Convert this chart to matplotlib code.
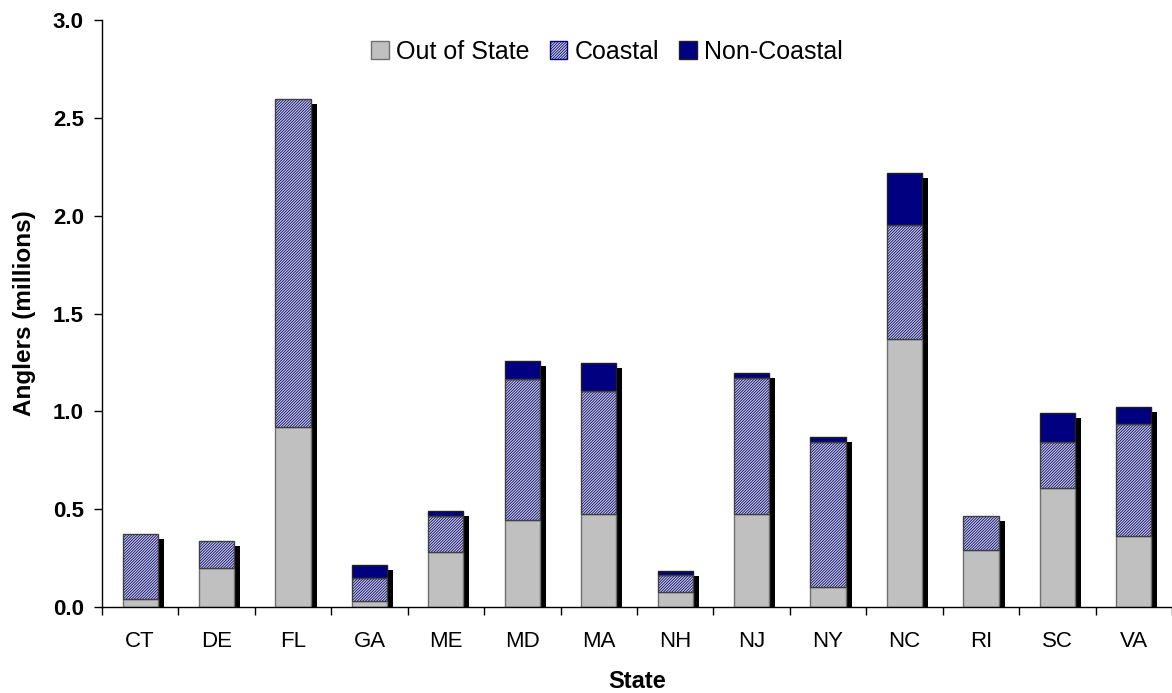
import numpy as np
import matplotlib
matplotlib.use('Agg')
import matplotlib.pyplot as plt
from matplotlib.patches import Patch

# Anglers by state (millions)
states = ['CT', 'DE', 'FL', 'GA', 'ME', 'MD', 'MA', 'NH', 'NJ', 'NY', 'NC', 'RI', 'SC', 'VA']
out_of_state = [0.04, 0.20, 0.92, 0.03, 0.28, 0.445, 0.475, 0.075, 0.475, 0.105, 1.37, 0.29, 0.61, 0.365]
coastal = [0.335, 0.14, 1.675, 0.12, 0.185, 0.72, 0.63, 0.09, 0.695, 0.74, 0.585, 0.175, 0.235, 0.57]
non_coastal = [0.0, 0.0, 0.0, 0.065, 0.025, 0.095, 0.14, 0.02, 0.025, 0.025, 0.265, 0.0, 0.145, 0.09]

plt.rcParams['font.family'] = ['Liberation Sans', 'DejaVu Sans']
plt.rcParams['hatch.linewidth'] = 0.55

GRAY = '#c0c0c0'
NAVY = '#000080'
HATCH_BG = '#c8c8d0'
HATCH = '////////////'

fig = plt.figure(figsize=(11.72, 6.93), dpi=100)
ax = fig.add_axes([0.087, 0.124, 0.913, 0.847])

x = np.arange(len(states))
out_arr = np.array(out_of_state)
coast_arr = np.array(coastal)
non_arr = np.array(non_coastal)
total = out_arr + coast_arr + non_arr
width = 0.46

# Drop shadow behind each stacked bar (offset right/down)
dx = 0.0785
dy = 0.0256
ax.bar(x + dx, total - dy, width, color='black', linewidth=0, zorder=1)

# Stacked segments
ax.bar(x, out_arr, width, color=GRAY, edgecolor='#707070', linewidth=1, zorder=2)
ax.bar(x, coast_arr, width, bottom=out_arr, color=HATCH_BG, edgecolor=NAVY,
       hatch=HATCH, linewidth=0, zorder=2)
ax.bar(x, coast_arr, width, bottom=out_arr, fill=False, edgecolor='#404040',
       linewidth=1, zorder=3)
has_non = non_arr > 0
ax.bar(x[has_non], non_arr[has_non], width, bottom=(out_arr + coast_arr)[has_non],
       color=NAVY, edgecolor='#202020', linewidth=1, zorder=2)

# Axes styling
ax.set_xlim(-0.5, len(states) - 0.5)
ax.set_ylim(0, 3.0)
ax.set_yticks(np.arange(0, 3.01, 0.5))
ax.set_yticklabels(['%.1f' % v for v in np.arange(0, 3.01, 0.5)],
                   fontsize=16, fontweight='bold')
ax.set_xticks(np.arange(-0.5, len(states), 1.0))
ax.set_xticklabels([])
ax.set_xticks(x, minor=True)
ax.set_xticklabels(states, minor=True, fontsize=16)
ax.tick_params(axis='x', which='major', direction='out', length=6, width=1)
ax.tick_params(axis='x', which='minor', length=0, pad=17)
ax.tick_params(axis='y', direction='out', length=6, width=1, pad=7)

for side in ['top', 'right']:
    ax.spines[side].set_visible(False)
for side in ['left', 'bottom']:
    ax.spines[side].set_linewidth(1)
    ax.spines[side].set_color('black')

ax.set_ylabel('Anglers (millions)', fontsize=17.5, fontweight='bold', labelpad=12)
ax.set_xlabel('State', fontsize=17, fontweight='bold', labelpad=13)

# Legend across the top
handles = [
    Patch(facecolor=GRAY, edgecolor='#707070', label='Out of State'),
    Patch(facecolor=HATCH_BG, edgecolor=NAVY, hatch=HATCH, label='Coastal'),
    Patch(facecolor=NAVY, edgecolor='#202020', label='Non-Coastal'),
]
fig.legend(handles=handles, loc='center', bbox_to_anchor=(0.518, 0.925), ncol=3,
           frameon=False, fontsize=18, handlelength=0.7, handleheight=0.7,
           handletextpad=0.3, columnspacing=0.8)

plt.savefig('out.png', dpi=100)
